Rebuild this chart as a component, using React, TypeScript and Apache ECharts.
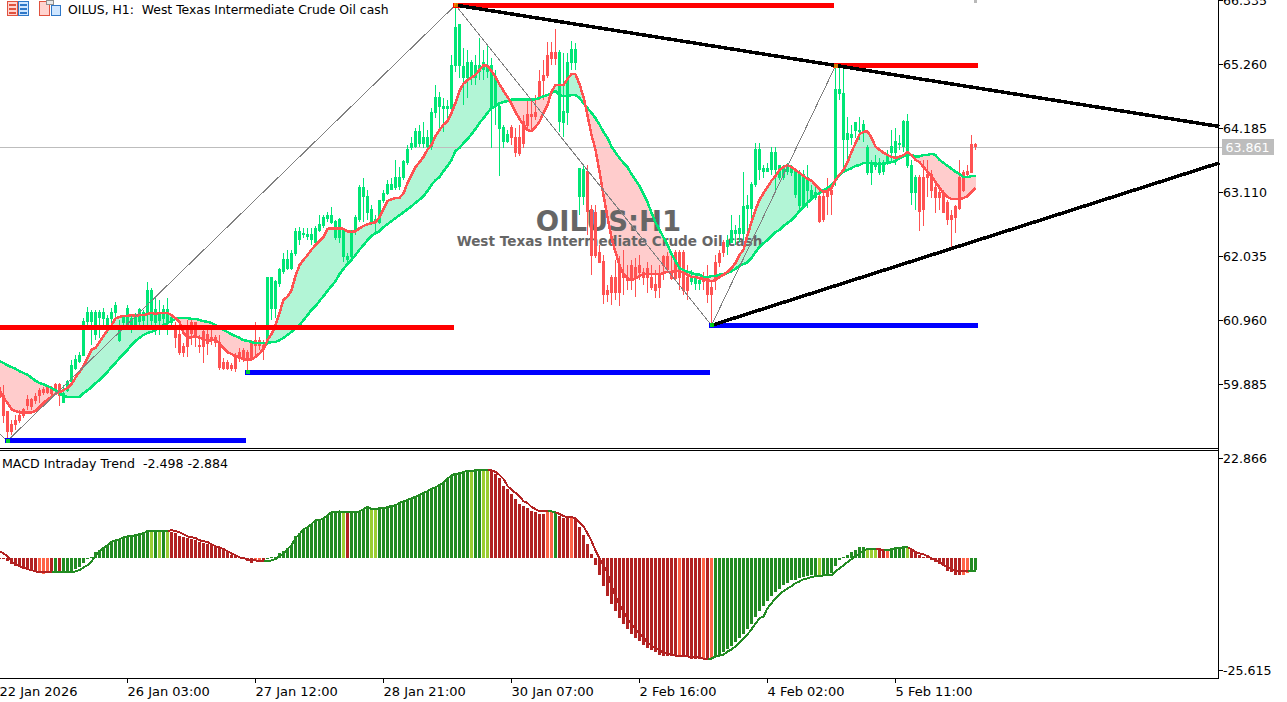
import React, { useEffect, useRef } from "react";
import * as echarts from "echarts";

const opens = [
59.82,59.70,59.43,59.21,59.28,59.36,59.45,59.62,59.62,59.68,
59.78,59.80,59.82,59.80,59.87,59.88,59.58,59.78,59.92,60.15,
60.27,60.37,60.94,60.93,60.71,61.01,60.99,60.79,60.99,61.08,
60.62,60.91,60.87,60.84,60.87,60.93,60.96,61.08,60.96,60.91,
60.96,60.99,60.93,60.91,60.79,60.71,60.52,60.79,60.91,60.91,
60.54,60.76,60.71,60.67,60.66,60.59,60.24,60.24,60.19,60.34,
60.42,60.44,60.42,60.57,60.62,60.62,60.54,60.59,61.16,61.16,
61.58,61.77,61.83,61.83,62.07,62.32,62.39,62.37,62.32,62.27,
62.47,62.54,62.67,62.60,62.35,62.34,62.02,61.98,62.02,62.44,
62.64,63.03,62.77,62.60,62.59,62.60,62.96,63.08,63.16,63.18,
63.21,63.35,63.61,63.85,63.88,63.93,63.93,63.87,63.87,64.44,
64.54,64.52,64.52,64.52,65.24,65.24,65.03,65.03,65.04,65.03,
65.13,65.16,65.13,64.54,64.55,64.18,63.95,63.95,64.20,64.03,
64.03,64.29,64.42,64.42,64.44,64.96,65.06,65.41,65.45,65.46,
64.29,64.27,64.45,65.28,65.28,63.03,63.03,63.45,62.81,62.77,
62.09,61.95,61.45,61.68,61.68,61.87,61.72,61.68,61.87,61.85,
61.87,61.75,61.83,61.68,61.55,61.72,62.02,62.02,61.77,62.09,
62.09,62.09,61.68,61.60,61.58,61.58,61.68,61.66,61.50,61.93,
62.07,62.27,62.19,62.27,62.42,62.42,62.42,62.84,62.84,63.23,
63.48,63.46,63.46,63.48,63.48,63.36,63.36,63.45,63.43,63.06,
62.89,62.89,63.14,63.01,63.01,63.03,63.03,63.11,63.14,63.31,
64.76,64.00,64.00,64.03,64.15,64.12,64.12,63.43,63.43,63.53,
63.43,63.45,63.61,63.77,63.78,63.90,63.87,63.56,63.11,63.11,
63.35,63.35,63.40,63.40,63.18,63.11,63.09,62.94,62.72,62.86,
63.35,63.43,63.45,63.90,63.90];

const closes = [
59.65,59.36,59.08,59.08,59.20,59.28,59.36,59.53,59.51,59.60,
59.70,59.75,59.75,59.73,59.78,59.70,59.73,59.92,60.19,60.29,
60.37,60.93,61.08,61.09,61.08,61.09,61.09,60.99,61.09,61.21,
60.83,61.01,61.16,60.99,61.01,61.13,61.08,61.45,61.46,61.13,
61.09,61.13,61.14,61.01,60.67,60.42,60.42,60.51,60.74,60.66,
60.51,60.51,60.57,60.62,60.59,60.17,60.15,60.15,60.14,60.15,
60.32,60.29,60.32,60.30,60.54,60.54,60.46,61.68,61.68,61.60,
61.80,61.97,61.97,62.07,62.44,62.44,62.42,62.40,62.39,62.50,
62.56,62.69,62.72,62.72,62.62,62.64,62.47,62.03,62.44,62.69,
63.18,63.18,63.03,62.82,62.64,62.96,63.09,63.23,63.23,63.35,
63.35,63.63,63.83,63.92,64.12,64.13,64.02,64.02,64.44,64.69,
64.69,64.54,64.54,65.24,65.88,65.92,65.21,65.28,65.28,65.24,
65.24,65.28,65.24,65.24,65.04,64.55,64.20,64.07,64.03,63.77,
63.75,63.93,64.22,64.37,64.37,64.71,64.99,65.06,65.36,65.36,
65.45,64.47,65.29,65.51,65.50,63.51,63.48,62.79,62.05,62.05,
61.93,61.38,61.38,61.43,61.43,61.43,61.68,61.63,61.63,61.68,
61.75,61.68,61.68,61.51,61.46,61.50,61.88,61.80,61.66,61.66,
61.68,61.46,61.46,61.68,61.66,61.63,61.60,61.38,61.38,61.63,
61.93,62.09,62.30,62.47,62.47,62.49,62.87,62.89,63.23,63.82,
63.82,63.50,63.50,63.77,63.78,63.56,63.53,63.53,63.51,63.45,
63.40,63.40,63.36,63.14,63.11,62.61,62.64,63.03,63.06,64.84,
64.84,64.77,64.10,64.08,64.27,64.15,64.24,63.85,63.60,63.61,
63.60,63.60,63.70,63.87,63.95,63.93,64.29,64.30,63.56,63.35,
62.79,62.81,63.35,63.14,63.01,63.01,62.76,62.64,62.64,62.69,
62.84,63.14,63.40,63.43,63.87];

const highs = [
59.92,59.87,59.43,59.28,59.36,59.45,59.48,59.70,59.65,59.73,
59.82,59.84,59.85,59.85,59.90,59.90,59.87,59.95,60.29,60.37,
60.42,60.99,61.18,61.13,61.13,61.13,61.16,61.04,61.16,61.26,
60.96,61.04,61.21,61.04,61.08,61.16,61.13,61.60,61.50,61.33,
61.30,61.21,61.33,61.06,60.93,60.79,60.57,60.96,60.96,60.93,
60.71,60.79,60.87,60.79,60.71,60.71,60.32,60.29,60.24,60.40,
60.49,60.49,60.46,60.62,60.93,60.67,60.62,61.68,61.68,61.63,
61.83,62.09,62.14,62.14,62.50,62.52,62.50,62.50,62.50,62.54,
62.72,62.72,62.77,62.86,62.64,62.67,62.50,62.09,62.47,62.72,
63.23,63.35,63.14,62.89,62.72,62.98,63.14,63.31,63.35,63.65,
63.53,63.65,63.90,64.03,64.18,64.24,64.29,64.15,64.52,64.91,
64.79,64.69,64.66,65.41,66.25,65.92,65.53,65.50,65.33,65.41,
65.70,65.50,65.58,65.36,65.16,64.57,64.24,64.15,64.24,64.18,
64.24,64.40,64.66,64.66,64.74,65.16,65.33,65.63,65.63,65.85,
65.50,65.45,65.45,65.65,65.61,63.51,63.56,63.56,62.89,62.89,
62.22,62.05,61.55,61.72,61.97,62.03,62.14,61.88,61.97,62.00,
62.05,61.83,61.93,61.88,61.80,61.88,62.05,62.10,62.05,62.14,
62.14,62.14,61.88,61.80,61.72,61.68,61.77,61.88,61.63,62.05,
62.14,62.30,62.39,62.72,62.56,62.72,63.45,63.06,63.28,63.93,
63.93,63.56,63.60,63.87,63.87,63.56,63.56,63.60,63.56,63.51,
63.48,63.48,63.56,63.23,63.23,63.14,63.14,63.35,63.23,65.23,
65.23,65.23,64.37,64.24,64.29,64.37,64.32,63.90,63.65,63.73,
63.68,63.65,63.82,64.15,64.18,64.07,64.32,64.42,63.65,63.40,
63.40,63.65,63.65,63.48,63.31,63.23,63.14,62.98,62.81,62.89,
63.65,63.48,63.56,64.07,63.93];

const lows = [
59.58,59.23,58.94,59.03,59.11,59.23,59.31,59.45,59.45,59.55,
59.57,59.70,59.72,59.67,59.70,59.51,59.57,59.75,59.90,60.12,
60.24,60.35,60.79,60.54,60.62,60.66,60.79,60.74,60.87,60.96,
60.59,60.79,60.79,60.74,60.79,60.83,60.83,60.79,60.79,60.71,
60.71,60.79,60.71,60.87,60.49,60.37,60.34,60.34,60.54,60.51,
60.40,60.24,60.37,60.54,60.51,60.12,60.12,60.12,60.10,60.09,
60.25,60.25,60.09,60.29,60.37,60.46,60.29,60.54,60.96,60.99,
61.51,61.73,61.80,61.80,62.03,62.22,62.34,62.30,62.22,62.22,
62.44,62.50,62.60,62.57,62.30,62.25,61.93,61.93,61.93,62.39,
62.60,62.60,62.64,62.56,62.39,62.57,62.93,63.06,63.14,63.14,
63.14,63.31,63.56,63.82,63.85,63.87,63.85,63.82,63.82,64.35,
64.15,64.12,64.35,64.40,65.13,65.03,64.57,64.69,64.91,64.91,
64.99,64.99,65.03,63.85,64.24,63.38,63.85,63.93,63.90,63.70,
63.71,63.85,64.15,64.15,64.32,64.66,64.66,65.03,65.24,65.24,
64.12,64.03,64.24,65.16,65.16,62.72,62.89,62.39,61.72,62.00,
61.93,61.23,61.26,61.21,61.30,61.20,61.38,61.46,61.46,61.35,
61.63,61.55,61.41,61.46,61.33,61.33,61.63,61.77,61.63,61.63,
61.46,61.38,61.30,61.55,61.46,61.46,61.46,61.24,60.87,61.46,
61.85,62.02,62.05,62.25,62.22,62.27,62.30,62.39,62.60,63.19,
63.31,63.35,63.45,63.40,63.14,63.31,63.31,63.40,63.38,63.01,
62.77,62.86,62.84,62.98,62.98,62.59,62.60,62.72,62.72,63.21,
64.66,63.48,63.56,63.90,64.02,63.98,63.95,63.40,63.23,63.48,
63.40,63.40,63.56,63.61,63.56,63.82,63.78,63.51,62.89,62.81,
62.45,62.54,63.03,63.01,62.76,62.81,62.76,62.56,62.19,62.42,
62.81,63.11,63.38,63.43,63.82];

const fastLine = [
59.78,59.65,59.57,59.46,59.43,59.41,59.41,59.41,59.41,59.43,
59.50,59.57,59.62,59.67,59.72,59.75,59.78,59.82,59.88,59.99,
60.09,60.19,60.32,60.46,60.49,60.59,60.69,60.79,60.87,60.99,
61.01,61.03,61.03,61.04,61.03,61.04,61.04,61.06,61.08,61.06,
61.08,61.08,61.08,61.04,60.99,60.93,60.74,60.67,60.67,60.69,
60.66,60.64,60.61,60.62,60.62,60.57,60.49,60.42,60.39,60.35,
60.34,60.30,60.30,60.30,60.34,60.40,60.47,60.62,60.72,60.87,
61.08,61.30,61.35,61.46,61.70,61.88,61.97,62.05,62.14,62.22,
62.29,62.35,62.49,62.50,62.50,62.50,62.49,62.45,62.44,62.45,
62.50,62.54,62.57,62.59,62.60,62.69,62.82,62.96,62.99,63.01,
63.01,63.09,63.26,63.40,63.53,63.61,63.70,63.82,63.90,64.05,
64.15,64.24,64.30,64.44,64.61,64.81,64.93,64.99,65.03,65.08,
65.16,65.24,65.23,65.14,65.04,64.92,64.81,64.71,64.59,64.45,
64.34,64.24,64.15,64.13,64.20,64.29,64.44,64.57,64.79,64.91,
64.91,64.91,65.01,65.09,65.09,64.92,64.71,64.40,64.07,63.82,
63.45,63.06,62.69,62.34,62.10,61.88,61.73,61.66,61.63,61.66,
61.70,61.73,61.73,61.73,61.73,61.73,61.75,61.77,61.77,61.78,
61.78,61.75,61.72,61.68,61.68,61.66,61.65,61.63,61.61,61.63,
61.68,61.72,61.77,61.83,61.92,62.05,62.14,62.39,62.60,62.81,
62.98,63.09,63.19,63.30,63.38,63.48,63.53,63.56,63.53,63.48,
63.43,63.38,63.33,63.30,63.23,63.16,63.11,63.13,63.18,63.31,
63.40,63.48,63.61,63.78,63.93,64.08,64.12,64.13,64.02,63.87,
63.82,63.77,63.73,63.70,63.68,63.70,63.73,63.78,63.73,63.65,
63.61,63.53,63.45,63.38,63.28,63.18,63.09,63.03,62.99,62.99,
62.99,63.01,63.04,63.11,63.18];

const slowLine = [
60.27,60.24,60.20,60.17,60.14,60.10,60.07,60.04,59.99,59.94,
59.90,59.88,59.85,59.82,59.78,59.73,59.68,59.67,59.67,59.67,
59.67,59.73,59.78,59.83,59.90,59.95,60.02,60.09,60.17,60.24,
60.32,60.39,60.46,60.54,60.61,60.66,60.71,60.74,60.76,60.79,
60.84,60.87,60.91,60.94,60.98,60.99,60.99,60.99,60.98,60.98,
60.96,60.94,60.93,60.91,60.87,60.84,60.79,60.76,60.72,60.69,
60.66,60.62,60.61,60.59,60.57,60.57,60.57,60.57,60.59,60.59,
60.62,60.66,60.71,60.76,60.83,60.87,60.96,61.04,61.13,61.19,
61.28,61.36,61.45,61.53,61.61,61.73,61.82,61.90,61.97,62.05,
62.14,62.22,62.30,62.37,62.42,62.45,62.52,62.57,62.62,62.67,
62.72,62.77,62.82,62.87,62.93,62.98,63.04,63.13,63.23,63.31,
63.36,63.46,63.55,63.65,63.80,63.85,63.93,64.00,64.08,64.17,
64.27,64.35,64.44,64.52,64.55,64.60,64.62,64.64,64.66,64.66,
64.66,64.66,64.66,64.66,64.67,64.69,64.72,64.74,64.77,64.81,
64.74,64.72,64.72,64.74,64.74,64.69,64.60,64.52,64.44,64.35,
64.24,64.12,64.02,63.87,63.77,63.68,63.60,63.53,63.41,63.31,
63.21,63.08,62.94,62.76,62.60,62.47,62.35,62.22,62.07,61.95,
61.83,61.80,61.77,61.75,61.73,61.72,61.68,61.68,61.70,61.70,
61.72,61.73,61.75,61.78,61.82,61.87,61.90,61.93,62.00,62.10,
62.19,62.25,62.30,62.37,62.44,62.47,62.54,62.59,62.64,62.71,
62.79,62.86,62.93,62.99,63.06,63.09,63.14,63.18,63.23,63.30,
63.40,63.45,63.48,63.51,63.55,63.56,63.60,63.60,63.60,63.58,
63.58,63.58,63.60,63.61,63.63,63.68,63.71,63.73,63.73,63.71,
63.71,63.73,63.73,63.75,63.73,63.65,63.60,63.55,63.50,63.45,
63.41,63.36,63.36,63.38,63.38];

const macdBars = [
-0.2,-0.2,-0.7,-1.4,-1.8,-2.1,-2.5,-2.7,-3.0,-3.2,
-3.4,-3.7,-3.4,-3.2,-3.2,-3.2,-3.2,-3.2,-3.0,-2.5,
-2.1,-1.1,-0.2,0.2,1.4,1.8,2.5,3.0,3.9,4.1,
4.3,4.8,5.0,5.0,5.3,5.5,5.7,6.2,6.2,6.2,
5.9,6.2,6.2,5.9,5.7,5.0,4.8,4.6,4.3,4.1,
3.7,3.4,3.2,3.0,2.7,2.3,1.8,1.4,0.7,0.5,
0.2,-0.2,-0.7,-1.1,-0.7,-0.5,-0.5,-0.2,0.2,0.2,
1.1,1.6,2.3,3.0,5.0,5.7,6.6,7.1,7.8,8.7,
8.7,9.1,9.8,10.5,10.5,10.7,10.5,10.5,10.5,10.5,
10.7,11.2,11.7,11.2,11.2,11.4,11.4,11.7,11.9,12.1,
12.6,13.0,13.3,13.7,14.0,14.4,14.9,15.3,15.8,16.2,
16.7,17.2,18.1,19.0,19.2,19.4,19.7,19.9,19.9,20.1,
20.1,20.1,20.1,19.9,19.2,18.3,16.5,15.8,14.6,13.5,
12.3,11.9,11.4,10.7,10.5,10.1,10.1,10.5,10.5,10.5,
9.6,9.1,9.1,9.1,8.9,7.1,5.3,3.2,0.9,-1.6,
-3.9,-6.4,-8.7,-10.5,-12.1,-13.7,-14.9,-16.2,-17.2,-18.1,
-18.8,-19.7,-20.4,-21.0,-21.5,-22.0,-22.2,-22.2,-22.2,-22.4,
-22.4,-22.6,-22.6,-22.9,-22.9,-22.9,-22.9,-22.9,-22.9,-22.6,
-22.4,-21.5,-20.8,-20.1,-19.0,-18.3,-17.4,-16.2,-14.9,-13.3,
-12.1,-11.0,-9.8,-8.7,-7.8,-7.1,-6.2,-5.7,-5.0,-5.0,
-4.6,-4.3,-4.1,-3.9,-3.9,-3.9,-3.9,-3.9,-3.4,-1.8,
-0.5,0.2,0.7,1.4,1.8,2.5,2.5,2.3,2.3,2.1,
1.8,1.8,1.8,1.8,2.3,2.3,2.7,2.3,1.8,1.6,
0.7,0.2,0.2,-0.5,-0.9,-1.4,-1.8,-3.0,-3.2,-3.9,
-3.9,-3.9,-3.4,-2.7,-2.7];

const macdSignal = [
1.6,1.1,0.5,-0.7,-1.4,-1.8,-2.1,-2.5,-2.7,-3.0,
-3.2,-3.2,-3.2,-3.2,-3.2,-3.2,-3.2,-3.2,-3.2,-3.0,
-2.7,-2.1,-1.6,-0.7,0.5,1.6,2.3,3.0,3.7,4.1,
4.3,4.8,5.0,5.0,5.3,5.5,5.7,6.2,6.2,6.2,
6.2,6.2,6.2,6.4,6.2,5.9,5.5,5.0,4.8,4.6,
4.1,3.9,3.7,3.2,2.7,2.5,2.1,1.6,1.1,0.7,
0.2,0,-0.2,-0.5,-0.5,-0.7,-0.7,-0.7,-0.5,-0.2,
0.5,1.1,2.1,3.0,4.6,5.5,6.6,7.1,7.8,8.7,
8.7,9.1,9.8,10.5,10.5,10.7,10.5,10.5,10.5,10.5,
10.7,11.2,11.7,11.2,11.2,11.4,11.4,11.7,11.9,12.1,
12.6,13.0,13.3,13.7,14.0,14.4,14.9,15.3,15.8,16.2,
16.7,17.2,18.1,19.0,19.2,19.4,19.7,19.9,19.9,20.1,
20.1,20.1,20.1,20.1,19.7,19.0,18.1,16.5,15.6,14.9,
14.2,13.0,12.6,11.7,11.2,10.7,10.7,10.7,10.7,10.5,
10.1,9.6,9.4,9.4,9.1,8.2,7.3,5.7,3.9,1.8,
0,-1.6,-3.4,-6.2,-8.7,-10.7,-12.1,-13.7,-15.1,-16.2,
-17.2,-18.1,-19.2,-19.9,-20.6,-21.0,-21.5,-21.7,-22.0,-22.2,
-22.2,-22.4,-22.4,-22.6,-22.6,-22.6,-22.9,-22.9,-22.9,-22.4,
-22.2,-22.0,-21.3,-20.8,-20.1,-19.2,-18.3,-17.4,-16.2,-14.9,
-13.7,-13.3,-11.4,-10.3,-9.1,-8.2,-7.5,-6.9,-6.4,-5.7,
-5.3,-4.8,-4.6,-4.3,-4.1,-4.1,-3.9,-3.9,-3.9,-3.0,
-2.3,-1.6,-0.9,-0.2,0.5,1.1,1.8,2.1,2.1,2.1,
2.1,1.8,1.8,2.1,2.3,2.3,2.5,2.5,2.1,1.4,
1.1,0.9,0.5,0,-0.5,-0.9,-1.6,-2.1,-2.5,-3.0,
-3.0,-3.0,-3.0,-3.0,-3.0];

// [first bar, last bar, colour] of the MACD histogram
const macdColorRuns: [number, number, string][] = [
  [0,9,"#B22222"],[10,12,"#FF6347"],[13,13,"#B22222"],[14,14,"#228B22"],[15,15,"#B22222"],
  [16,37,"#228B22"],[38,38,"#9ACD32"],[39,39,"#228B22"],[40,40,"#9ACD32"],[41,41,"#228B22"],[42,42,"#9ACD32"],
  [43,63,"#B22222"],[64,65,"#FF6347"],[66,66,"#B22222"],[67,85,"#228B22"],[86,86,"#9ACD32"],[87,87,"#B22222"],
  [88,92,"#228B22"],[93,94,"#9ACD32"],[95,117,"#228B22"],[118,118,"#9ACD32"],[119,120,"#228B22"],[121,122,"#9ACD32"],
  [123,136,"#B22222"],[137,138,"#FF6347"],[139,139,"#228B22"],[140,142,"#B22222"],[143,143,"#FF6347"],[144,169,"#B22222"],
  [170,170,"#FF6347"],[171,175,"#B22222"],[176,176,"#FF6347"],[177,177,"#B22222"],[178,178,"#FF6347"],[179,204,"#228B22"],
  [205,205,"#9ACD32"],[206,216,"#228B22"],[217,219,"#9ACD32"],[220,221,"#B22222"],[222,222,"#FF6347"],[223,226,"#228B22"],
  [227,227,"#9ACD32"],[228,240,"#B22222"],[241,242,"#FF6347"],[243,244,"#228B22"],
];
// bars over which the signal line is drawn green
const signalRisingRuns = [[14,42],[67,122],[138,139],[178,219],[222,227],[243,244]];

const priceTicks = [66.335,65.26,64.185,63.11,62.035,60.96,59.885];
const macdTicks = [22.866,-25.615];
const timeTicks: [number,string][] = [
  [0,"22 Jan 2026"],[32,"26 Jan 03:00"],[64,"27 Jan 12:00"],[96,"28 Jan 21:00"],
  [128,"30 Jan 07:00"],[160,"2 Feb 16:00"],[192,"4 Feb 02:00"],[224,"5 Feb 11:00"],
];
const BAR_SLOTS = 306;
const lastPrice = 63.861;
const zigzag = [[0,59.05],[2,58.93],[114,66.25],[178,60.87],[209,65.23]];
const resistanceLevels = [[0,113,60.83],[114,208,66.25],[209,244,65.23]];
const supportLevels = [[2,61,58.93],[62,177,60.07],[178,244,60.87]];
const trendLines = [[[114,66.25],[305,64.21]],[[178,60.87],[305,63.60]]];
const swingLows = [[2,58.93],[62,60.09],[178,60.87]];
const swingHighs = [[114,66.25],[209,65.23]];
const topEdgeMark = [[244,66.31]];

const GREEN = "#00E676";
const RED = "#FF5252";
const FONT = "'DejaVu Sans'";
const categories = Array.from({ length: BAR_SLOTS }, (_, i) => {
  const t = timeTicks.find((x) => x[0] === i);
  return t ? t[1] : "";
});
const isTick = (i: number) => timeTicks.some((x) => x[0] === i);
const barColor = (i: number) => {
  const r = macdColorRuns.find((x) => i >= x[0] && i <= x[1]);
  return r ? r[2] : "#228B22";
};
const rising = (i: number) => signalRisingRuns.some((r) => i >= r[0] && i <= r[1]);
const signalUp = macdSignal.map((v, i) => (rising(i) || rising(i + 1) ? v : null));
const signalDown = macdSignal.map((v, i) => (!rising(i) || (i + 1 < macdSignal.length && !rising(i + 1)) ? v : null));

const levelSeries = (rows: number[][], color: string) =>
  rows.map((r) => ({
    type: "line", xAxisIndex: 0, yAxisIndex: 0, z: 6, symbol: "none", silent: true,
    data: [[r[0], r[2]], [r[1], r[2]]],
    lineStyle: { color, width: 5, cap: "square" },
  }));

function buildOption() {
  return {
    animation: false,
    backgroundColor: "#fff",
    grid: [
      { left: -2.5, top: 0, width: 1224, height: 448, outerBoundsMode: "none", containLabel: false },
      { left: -2.5, top: 451, width: 1224, height: 227.5, outerBoundsMode: "none", containLabel: false },
    ],
    xAxis: [
      { type: "category", gridIndex: 0, data: categories, show: false },
      {
        type: "category", gridIndex: 1, data: categories, position: "bottom",
        axisLine: { show: false, onZero: false },
        axisTick: { show: true, alignWithLabel: true, length: 4, interval: (i: number) => isTick(i), lineStyle: { color: "#000" } },
        axisLabel: { interval: (i: number) => isTick(i), align: "left", margin: 6, color: "#000", fontFamily: FONT, fontSize: 13, hideOverlap: false },
      },
    ],
    yAxis: [
      {
        type: "value", gridIndex: 0, position: "right", offset: -3, min: 58.81, max: 66.335,
        splitLine: { show: false },
        axisLine: { show: true, lineStyle: { color: "#000" } },
        axisTick: { show: true, length: 4, customValues: priceTicks, lineStyle: { color: "#000" } },
        axisLabel: { customValues: priceTicks, margin: 4.5, color: "#000", fontFamily: FONT, fontSize: 12.6, formatter: (v: number) => v.toFixed(3) },
      },
      {
        type: "value", gridIndex: 1, position: "right", offset: -3, min: -27.44, max: 24.47,
        splitLine: { show: false },
        axisLine: { show: true, lineStyle: { color: "#000" } },
        axisTick: { show: true, length: 4, customValues: macdTicks, lineStyle: { color: "#000" } },
        axisLabel: { customValues: macdTicks, margin: 4.5, color: "#000", fontFamily: FONT, fontSize: 12.6, formatter: (v: number) => v.toFixed(3) },
      },
    ],
    series: [
      {
        type: "custom", xAxisIndex: 0, yAxisIndex: 0, z: 1, silent: true,
        data: fastLine.slice(0, -1).map((f, i) => [i, f, slowLine[i], fastLine[i + 1], slowLine[i + 1]]),
        encode: { x: 0, y: 1 },
        renderItem: (_p: any, api: any) => {
          const i = api.value(0);
          const a = api.value(1), b = api.value(2), c = api.value(3), d = api.value(4);
          return {
            type: "polygon",
            shape: { points: [api.coord([i, a]), api.coord([i + 1, c]), api.coord([i + 1, d]), api.coord([i, b])] },
            style: { fill: a + c > b + d ? "#B2F5D6" : "#FFCCCC" },
          };
        },
      },
      {
        type: "candlestick", xAxisIndex: 0, yAxisIndex: 0, z: 3, barWidth: 2, silent: true,
        data: opens.map((o, i) => [o, closes[i], lows[i], highs[i]]),
        itemStyle: { color: GREEN, color0: RED, borderColor: GREEN, borderColor0: RED, borderWidth: 1 },
        markLine: {
          silent: true, symbol: "none", z: 2,
          data: [{ yAxis: lastPrice }],
          lineStyle: { color: "#BDBDBD", width: 1, type: "solid" },
          label: {
            show: true, position: "end", distance: 0, color: "#fff", fontFamily: FONT, fontSize: 12.6,
            backgroundColor: "#BDBDBD", padding: [2, 4, 1, 4], formatter: lastPrice.toFixed(3),
          },
        },
      },
      { type: "line", xAxisIndex: 0, yAxisIndex: 0, z: 4, symbol: "none", silent: true, data: slowLine, lineStyle: { color: GREEN, width: 2.5 } },
      { type: "line", xAxisIndex: 0, yAxisIndex: 0, z: 4, symbol: "none", silent: true, data: fastLine, lineStyle: { color: RED, width: 2.5 } },
      { type: "line", xAxisIndex: 0, yAxisIndex: 0, z: 5, symbol: "none", silent: true, data: zigzag, lineStyle: { color: "#808080", width: 1 } },
      ...levelSeries(resistanceLevels, "#FF0000"),
      ...levelSeries(supportLevels, "#0000FF"),
      ...trendLines.map((t) => ({
        type: "line", xAxisIndex: 0, yAxisIndex: 0, z: 7, symbol: "none", silent: true, data: t,
        lineStyle: { color: "#000", width: 3.5 },
      })),
      { type: "scatter", xAxisIndex: 0, yAxisIndex: 0, z: 8, symbol: "rect", symbolSize: 4, silent: true, data: swingLows, itemStyle: { color: "#00FF00" } },
      { type: "scatter", xAxisIndex: 0, yAxisIndex: 0, z: 8, symbol: "rect", symbolSize: 4, silent: true, data: swingHighs, itemStyle: { color: "#FF9900" } },
      { type: "scatter", xAxisIndex: 0, yAxisIndex: 0, z: 8, symbol: "rect", symbolSize: 3, silent: true, data: topEdgeMark, itemStyle: { color: "#A8A8A8" } },
      {
        type: "bar", xAxisIndex: 1, yAxisIndex: 1, barWidth: 3, z: 3, silent: true,
        data: macdBars.map((v, i) => ({ value: v, itemStyle: { color: barColor(i) } })),
      },
      { type: "line", xAxisIndex: 1, yAxisIndex: 1, z: 4, symbol: "none", silent: true, data: signalDown, lineStyle: { color: "#B22222", width: 2 } },
      { type: "line", xAxisIndex: 1, yAxisIndex: 1, z: 4, symbol: "none", silent: true, data: signalUp, lineStyle: { color: "#228B22", width: 2 } },
    ],
    graphic: [
      { type: "line", z: 20, silent: true, shape: { x1: 0, y1: 448.5, x2: 1219, y2: 448.5 }, style: { stroke: "#000", lineWidth: 1 } },
      { type: "line", z: 20, silent: true, shape: { x1: 0, y1: 450.5, x2: 1219, y2: 450.5 }, style: { stroke: "#000", lineWidth: 1 } },
      { type: "line", z: 20, silent: true, shape: { x1: 0, y1: 678.5, x2: 1219, y2: 678.5 }, style: { stroke: "#000", lineWidth: 1 } },
      { type: "line", z: 20, silent: true, shape: { x1: 1218.5, y1: 0, x2: 1218.5, y2: 679 }, style: { stroke: "#000", lineWidth: 1 } },
      // window icons
      { type: "rect", z: 20, silent: true, shape: { x: 7.5, y: 1.5, width: 10, height: 14 }, style: { fill: "#FFD4D0", stroke: "#E0523F" } },
      { type: "rect", z: 20, silent: true, shape: { x: 18.5, y: 1.5, width: 10, height: 14 }, style: { fill: "#CFE6FF", stroke: "#2F78C8" } },
      { type: "rect", z: 20, silent: true, shape: { x: 9, y: 4, width: 7, height: 2 }, style: { fill: "#E0523F" } },
      { type: "rect", z: 20, silent: true, shape: { x: 9, y: 8, width: 7, height: 2 }, style: { fill: "#E0523F" } },
      { type: "rect", z: 20, silent: true, shape: { x: 9, y: 12, width: 7, height: 2 }, style: { fill: "#E0523F" } },
      { type: "rect", z: 20, silent: true, shape: { x: 20, y: 4, width: 7, height: 2 }, style: { fill: "#2F78C8" } },
      { type: "rect", z: 20, silent: true, shape: { x: 20, y: 8, width: 7, height: 2 }, style: { fill: "#2F78C8" } },
      { type: "rect", z: 20, silent: true, shape: { x: 20, y: 12, width: 7, height: 2 }, style: { fill: "#2F78C8" } },
      { type: "rect", z: 20, silent: true, shape: { x: 39.5, y: 1.5, width: 10, height: 14 }, style: { fill: "#FFD4D0", stroke: "#E0523F" } },
      { type: "rect", z: 20, silent: true, shape: { x: 51.5, y: 5.5, width: 9, height: 10 }, style: { fill: "#CFE6FF", stroke: "#2F78C8" } },
      { type: "rect", z: 20, silent: true, shape: { x: 46.5, y: 0.5, width: 7, height: 4 }, style: { fill: "#E8E8E8", stroke: "#909090" } },
      // captions
      { type: "text", z: 20, silent: true, x: 68, y: 9, style: { text: "OILUS, H1:  West Texas Intermediate Crude Oil cash", fill: "#000", font: `12.4px ${FONT}`, verticalAlign: "middle" } },
      { type: "text", z: 20, silent: true, x: 2, y: 463, style: { text: "MACD Intraday Trend  -2.498 -2.884", fill: "#000", font: `12.6px ${FONT}`, verticalAlign: "middle" } },
      // watermark
      { type: "text", z: 2, silent: true, x: 608.5, y: 221, style: { text: "OILUS:H1", fill: "#666666", font: `bold 27.5px ${FONT}`, align: "center", verticalAlign: "middle" } },
      { type: "text", z: 2, silent: true, x: 609.5, y: 241, style: { text: "West Texas Intermediate Crude Oil cash", fill: "#666666", font: `bold 13.6px ${FONT}`, align: "center", verticalAlign: "middle" } },
    ],
  };
}

export default function App() {
  const ref = useRef<HTMLDivElement>(null);
  useEffect(() => {
    const chart = echarts.init(ref.current!, null, { renderer: "svg" });
    chart.setOption(buildOption() as any);
    return () => chart.dispose();
  }, []);
  return (
    <>
      <style>{`html,body{margin:0;padding:0;background:#fff;overflow:hidden} svg path{shape-rendering:crispEdges}`}</style>
      <div ref={ref} style={{ width: 1287, height: 702 }} />
    </>
  );
}
